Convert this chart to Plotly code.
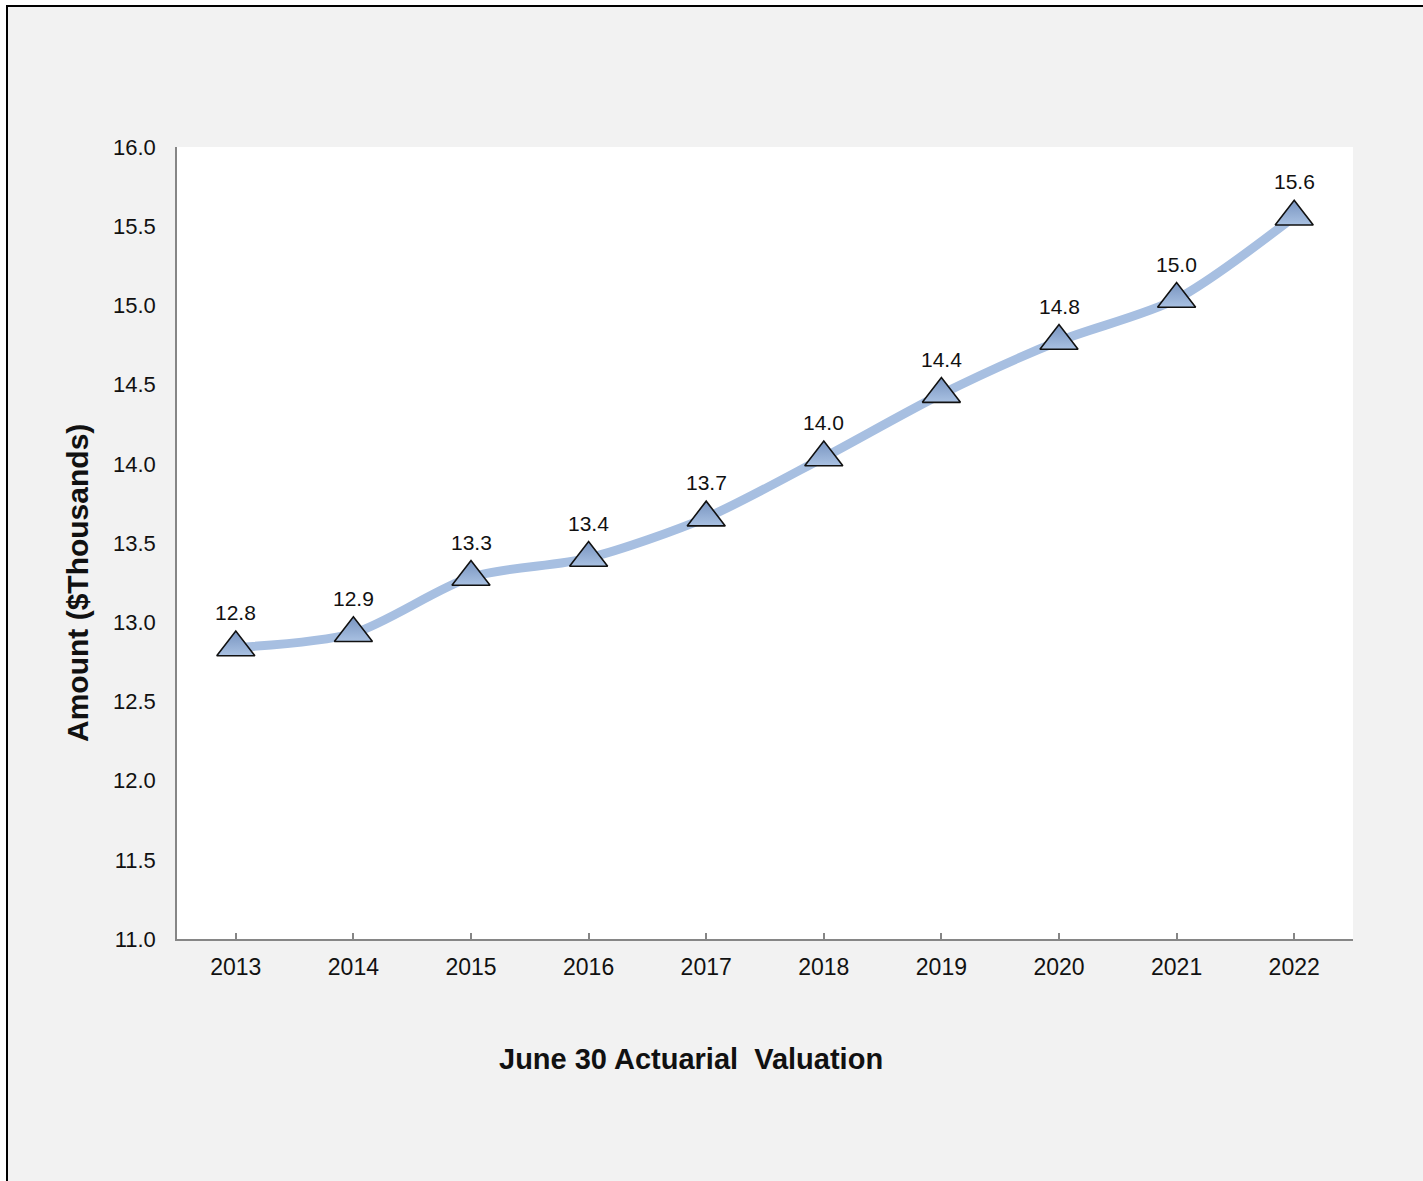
import plotly.graph_objects as go

years = [2013, 2014, 2015, 2016, 2017, 2018, 2019, 2020, 2021, 2022]
amounts = [12.84, 12.93, 13.285, 13.405, 13.66, 14.04, 14.44, 14.775, 15.04, 15.56]
labels = [f"{v:.1f}" for v in amounts]
y_ticks = [11.0, 11.5, 12.0, 12.5, 13.0, 13.5, 14.0, 14.5, 15.0, 15.5, 16.0]

W, H = 1423, 1181
L, R, T, B = 177, 1353, 147, 939
PW, PH = R - L, B - T


def px_x(x):
    return (x - L) / PW


def px_y(y):
    return (B - y) / PH


FONT = "Liberation Sans, Arial, sans-serif"

fig = go.Figure()
fig.add_trace(go.Scatter(
    x=years, y=amounts, mode="lines",
    line=dict(color="#a7bfe1", width=9, shape="spline", smoothing=0.8),
    hoverinfo="skip", showlegend=False,
))
fig.add_trace(go.Scatter(
    x=years, y=amounts, mode="markers",
    marker=dict(symbol="triangle-up", size=33, color="#7894c0",
                gradient=dict(type="vertical", color="#a9c1e2"),
                line=dict(color="#111111", width=1.6)),
    showlegend=False,
))

for x, y, t in zip(years, amounts, labels):
    fig.add_annotation(x=x, y=y, text=t, showarrow=False, yshift=35,
                       font=dict(family=FONT, size=21, color="#111111"))

fig.add_annotation(xref="paper", yref="paper", x=px_x(691), y=px_y(1059),
                   text="<b>June 30 Actuarial  Valuation</b>", showarrow=False,
                   xanchor="center", yanchor="middle",
                   font=dict(family=FONT, size=29, color="#111111"))
fig.add_annotation(xref="paper", yref="paper", x=px_x(77), y=px_y(583),
                   text="<b>Amount ($Thousands)</b>", showarrow=False, textangle=-90,
                   xanchor="center", yanchor="middle",
                   font=dict(family=FONT, size=30, color="#111111"))

# outer frame
fig.add_shape(type="rect", xref="paper", yref="paper",
              x0=px_x(-5), x1=px_x(6), y0=px_y(W + 50), y1=px_y(-5),
              fillcolor="white", line=dict(width=0), layer="above")
fig.add_shape(type="rect", xref="paper", yref="paper",
              x0=px_x(-5), x1=px_x(W + 50), y0=px_y(5), y1=px_y(-5),
              fillcolor="white", line=dict(width=0), layer="above")
fig.add_shape(type="rect", xref="paper", yref="paper",
              x0=px_x(7), x1=px_x(W + 50), y0=px_y(H + 50), y1=px_y(6),
              fillcolor="rgba(0,0,0,0)", line=dict(color="black", width=2), layer="above")

fig.update_xaxes(
    range=[2012.5, 2022.5], tickvals=years + [2022.5], ticktext=[str(y) for y in years] + [""],
    ticks="inside", ticklen=6, tickcolor="#868686", tickwidth=1.5,
    showline=True, linecolor="#868686", linewidth=1.5, showgrid=False, zeroline=False,
    tickfont=dict(family=FONT, size=23, color="#111111"), ticklabelstandoff=7,
)
fig.update_yaxes(
    range=[11.0, 16.0], tickvals=y_ticks, ticktext=[f"{v:.1f}" for v in y_ticks],
    ticks="", showline=True, linecolor="#868686", linewidth=1.5, showgrid=False, zeroline=False,
    tickfont=dict(family=FONT, size=22, color="#111111"), ticklabelstandoff=15,
)
fig.update_layout(
    width=W, height=H, autosize=False,
    margin=dict(l=L, r=W - R, t=T, b=H - B, pad=0),
    paper_bgcolor="#f2f2f2", plot_bgcolor="white",
    font=dict(family=FONT),
)
fig.write_html("out.html", include_plotlyjs=True, config={"displayModeBar": False})
